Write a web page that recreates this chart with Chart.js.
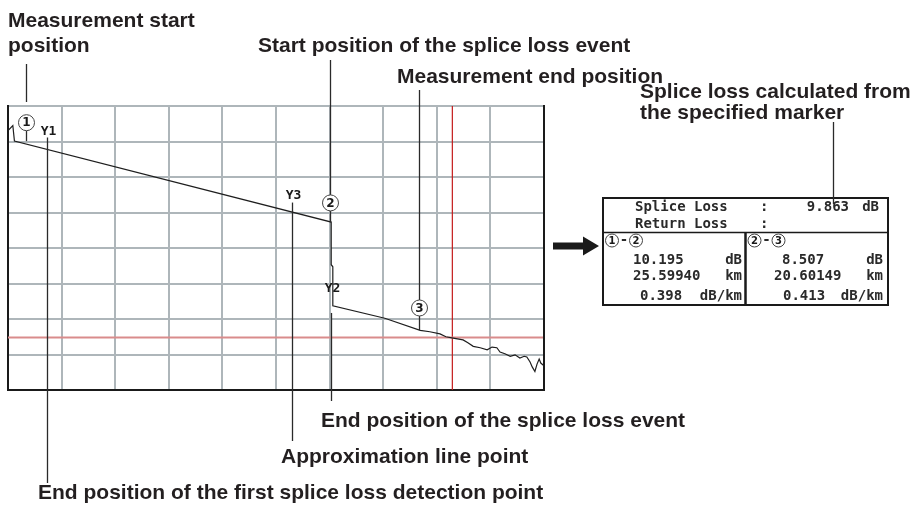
<!DOCTYPE html>
<html>
<head>
<meta charset="utf-8">
<script src="https://cdn.jsdelivr.net/npm/chart.js@4.4.1/dist/chart.umd.min.js"></script>
<style>
  html, body { margin: 0; padding: 0; background: #fff; }
  #wrap { position: relative; width: 919px; height: 506px; }
</style>
</head>
<body>
<div id="wrap"><canvas id="otdr" width="919" height="506"></canvas></div>
<script>
// OTDR trace, in screen divisions (10 across, 8 down)
const traceX = [0, 0.09, 0.12, 6.03, 6.03, 6.06, 6.06, 7.03, 7.69, 7.87, 8.06, 8.17, 8.28, 8.49, 8.58, 8.68,
                8.81, 8.94, 9.03, 9.12, 9.18, 9.27, 9.37, 9.46, 9.55, 9.63, 9.68, 9.74, 9.78, 9.83, 9.87, 9.91, 9.94, 10];
const traceY = [7.31, 7.45, 7.01, 4.73, 3.53, 3.47, 2.37, 2.02, 1.68, 1.64, 1.58, 1.50, 1.47, 1.41, 1.33, 1.23,
                1.19, 1.13, 1.21, 1.19, 1.07, 1.02, 0.95, 0.99, 0.90, 0.95, 0.93, 0.79, 0.65, 0.52, 0.73, 0.87, 0.76, 0.68];

// numbered markers: position, circle height, and where the marker meets the trace
const markerLabels = ['1', '2', '3'];
const markerX = [0.33, 6.0, 7.67];
const markerY = [7.53, 5.27, 2.31];
const markerFootY = [7.01, 4.72, 1.69];

// approximation line points
const approxLabels = ['Y1', 'Y2', 'Y3'];
const approxX = [0.72, 6.03, 5.29];
const approxLabelY = [7.28, 2.86, 5.47];
const approxTopY = [7.11, 2.17, 5.28];

// cursors
const cursorX = 8.29;
const cursorY = 1.48;

// splice loss readout
const spliceLoss = '9.863';
const sectionMarkers = [['1', '2'], ['2', '3']];
const sectionLoss = ['10.195', '8.507'];
const sectionDist = ['25.59940', '20.60149'];
const sectionPerKm = ['0.398', '0.413'];

const INK = '#231f20';
const LABEL_FONT = 'bold 21px "Liberation Sans", Arial, sans-serif';
const MONO = 'bold 14px "DejaVu Sans Mono", monospace';

function circled(ctx, x, y, r, digit, size) {
    ctx.save();
    ctx.beginPath();
    ctx.arc(x, y, r, 0, Math.PI * 2);
    ctx.fillStyle = '#fff';
    ctx.fill();
    ctx.lineWidth = 1;
    ctx.strokeStyle = '#444';
    ctx.stroke();
    ctx.fillStyle = '#1a1a1a';
    ctx.font = 'bold ' + size + 'px "DejaVu Sans", sans-serif';
    ctx.textAlign = 'center';
    ctx.textBaseline = 'middle';
    ctx.fillText(digit, x, y + 0.5);
    ctx.restore();
}

function vline(ctx, x, y1, y2, w, color) {
    ctx.beginPath();
    ctx.moveTo(x, y1);
    ctx.lineTo(x, y2);
    ctx.lineWidth = w;
    ctx.strokeStyle = color;
    ctx.stroke();
}

const callouts = {
    id: 'callouts',
    afterDatasetsDraw(chart) {
        const ctx = chart.ctx;
        const xs = chart.scales.x;
        const ys = chart.scales.y;
        const area = chart.chartArea;
        ctx.save();

        // right frame edge
        vline(ctx, area.right, area.top - 1, area.bottom + 1, 2, '#1a1a1a');

        // approximation points Y1..Y3
        const lineEnds = [483, 401, 441];
        approxLabels.forEach((lab, i) => {
            const px = Math.round(xs.getPixelForValue(approxX[i])) + 0.5;
            vline(ctx, px, ys.getPixelForValue(approxTopY[i]), lineEnds[i], 1.3, '#2a2a2a');
            ctx.font = 'bold 13px "DejaVu Sans Mono", monospace';
            ctx.fillStyle = '#1a1a1a';
            ctx.textAlign = 'center';
            ctx.textBaseline = 'middle';
            ctx.fillText(lab, px + 1, ys.getPixelForValue(approxLabelY[i]));
        });

        // numbered markers with their leader lines
        const leaderTops = [64, 60, 90];
        markerLabels.forEach((lab, i) => {
            const px = Math.round(xs.getPixelForValue(markerX[i])) + 0.5;
            const cy = ys.getPixelForValue(markerY[i]);
            const r = 8;
            const top = i === 0 ? 102 : cy - r;
            vline(ctx, px, leaderTops[i], top, 1.3, '#2a2a2a');
            vline(ctx, px, cy + r, ys.getPixelForValue(markerFootY[i]), 1.3, '#2a2a2a');
            circled(ctx, px, cy, r, lab, 12);
        });

        // callout texts
        ctx.fillStyle = INK;
        ctx.font = LABEL_FONT;
        ctx.textAlign = 'left';
        ctx.textBaseline = 'middle';
        ctx.fillText('Measurement start', 8, 21);
        ctx.fillText('position', 8, 46);
        ctx.fillText('Start position of the splice loss event', 258, 46);
        ctx.fillText('Measurement end position', 397, 77);
        ctx.fillText('Splice loss calculated from', 640, 92);
        ctx.fillText('the specified marker', 640, 113);
        ctx.fillText('End position of the splice loss event', 321, 421);
        ctx.fillText('Approximation line point', 281, 457);
        ctx.fillText('End position of the first splice loss detection point', 38, 493);

        // arrow to the readout
        ctx.fillStyle = '#1a1a1a';
        ctx.beginPath();
        ctx.moveTo(553, 242.5);
        ctx.lineTo(583, 242.5);
        ctx.lineTo(583, 236.5);
        ctx.lineTo(599, 246);
        ctx.lineTo(583, 255.5);
        ctx.lineTo(583, 249.5);
        ctx.lineTo(553, 249.5);
        ctx.closePath();
        ctx.fill();

        // readout table
        const L = 603, T = 198, R = 888, B = 305, MID = 232.5, COL = 745.5;
        ctx.fillStyle = '#fff';
        ctx.fillRect(L, T, R - L, B - T);
        ctx.strokeStyle = '#1a1a1a';
        ctx.lineWidth = 2;
        ctx.strokeRect(L, T, R - L, B - T);
        ctx.beginPath();
        ctx.moveTo(L, MID);
        ctx.lineTo(R, MID);
        ctx.lineWidth = 1.5;
        ctx.stroke();
        vline(ctx, COL, MID, B, 2.5, '#1a1a1a');
        vline(ctx, 833.5, 122, 204, 1.3, '#2a2a2a');

        ctx.fillStyle = '#2a2a2a';
        ctx.font = MONO;
        ctx.textBaseline = 'middle';
        ctx.textAlign = 'left';
        ctx.fillText('Splice Loss', 635, 207);
        ctx.fillText('Return Loss', 635, 224);
        ctx.fillText(':', 760, 207);
        ctx.fillText(':', 760, 224);
        ctx.textAlign = 'right';
        ctx.fillText(spliceLoss, 849, 207);
        ctx.fillText('dB', 879, 207);

        const colLeft = [L, COL];
        const colRight = [742, 883];
        const valueLeft = [[633, 633, 640], [782, 774, 783]];
        sectionMarkers.forEach((pair, i) => {
            const x0 = colLeft[i] + 9;
            circled(ctx, x0, 240.5, 6.5, pair[0], 10);
            ctx.fillStyle = '#2a2a2a';
            ctx.font = MONO;
            ctx.textAlign = 'center';
            ctx.fillText('-', x0 + 12, 240.5);
            circled(ctx, x0 + 24, 240.5, 6.5, pair[1], 10);

            ctx.fillStyle = '#2a2a2a';
            ctx.font = MONO;
            ctx.textAlign = 'left';
            ctx.fillText(sectionLoss[i], valueLeft[i][0], 260);
            ctx.fillText(sectionDist[i], valueLeft[i][1], 276);
            ctx.fillText(sectionPerKm[i], valueLeft[i][2], 296.5);
            ctx.textAlign = 'right';
            ctx.fillText('dB', colRight[i], 260);
            ctx.fillText('km', colRight[i], 276);
            ctx.fillText('dB/km', colRight[i], 296.5);
        });

        ctx.restore();
    }
};

const gridStyle = { color: '#aeb6ba', lineWidth: 2, drawTicks: false };

new Chart(document.getElementById('otdr'), {
    type: 'line',
    data: {
        datasets: [
            {
                data: traceX.map((x, i) => ({ x: x, y: traceY[i] })),
                borderColor: '#1e1e1e',
                borderWidth: 1.2,
                pointRadius: 0,
                tension: 0,
                order: 0
            },
            {
                data: [{ x: 0, y: cursorY }, { x: 10, y: cursorY }],
                borderColor: '#d98c8c',
                borderWidth: 2,
                pointRadius: 0,
                order: 2
            },
            {
                data: [{ x: cursorX, y: 0 }, { x: cursorX, y: 8 }],
                borderColor: '#c41a1a',
                borderWidth: 1.2,
                pointRadius: 0,
                order: 2
            }
        ]
    },
    options: {
        responsive: false,
        animation: false,
        layout: { padding: { left: 8, top: 106, right: 375, bottom: 116 } },
        plugins: { legend: { display: false }, tooltip: { enabled: false } },
        scales: {
            x: {
                type: 'linear', min: 0, max: 10,
                ticks: { display: false, stepSize: 1 },
                grid: gridStyle,
                border: { color: '#1a1a1a', width: 2 }
            },
            y: {
                type: 'linear', min: 0, max: 8,
                ticks: { display: false, stepSize: 1 },
                grid: gridStyle,
                border: { color: '#1a1a1a', width: 2 }
            }
        }
    },
    plugins: [callouts]
});
</script>
</body>
</html>
